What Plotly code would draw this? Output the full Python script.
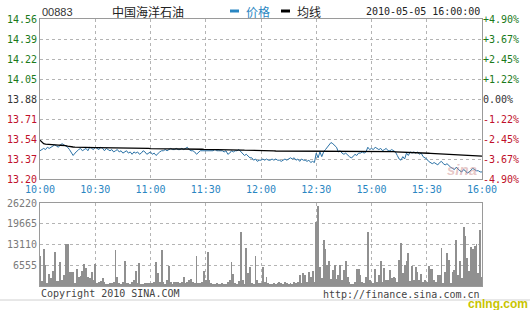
import plotly.graph_objects as go

W, H = 530, 310

# ---------------- data ----------------
stock_code = "00883"
stock_name = "中国海洋石油"
timestamp = "2010-05-05 16:00:00"
pre_close = 13.88

time_labels = ["10:00", "10:30", "11:00", "11:30", "12:00", "12:30", "15:00", "15:30", "16:00"]
time_ticks = [0, 30, 60, 90, 120, 150, 180, 210, 240]

price_ticks = [14.56, 14.39, 14.22, 14.05, 13.88, 13.71, 13.54, 13.37, 13.20]
pct_labels = ["+4.90%", "+3.67%", "+2.45%", "+1.22%", "0.00%", "-1.22%", "-2.45%", "-3.67%", "-4.90%"]
vol_ticks = [6555, 13110, 19665, 26220]

price = [
    13.44, 13.45, 13.46, 13.45, 13.47, 13.46, 13.47, 13.48, 13.49, 13.48, 13.47, 13.49, 13.50, 13.49, 13.48,
    13.47, 13.45, 13.43, 13.40, 13.42, 13.44, 13.45, 13.46, 13.44, 13.45, 13.46, 13.44, 13.47, 13.46, 13.45,
    13.47, 13.46, 13.45, 13.47, 13.46, 13.44, 13.46, 13.45, 13.44, 13.45, 13.43, 13.44, 13.45, 13.43, 13.44,
    13.42, 13.43, 13.44, 13.42, 13.43, 13.41, 13.43, 13.42, 13.43, 13.41, 13.42, 13.44, 13.43, 13.41, 13.42,
    13.43, 13.41, 13.42, 13.40, 13.42, 13.43, 13.44, 13.44, 13.45, 13.44, 13.45, 13.46, 13.45, 13.45, 13.46,
    13.45, 13.45, 13.46, 13.45, 13.46, 13.47, 13.45, 13.44, 13.44, 13.43, 13.41, 13.43, 13.44, 13.44, 13.44,
    13.44, 13.44, 13.44, 13.44, 13.44, 13.45, 13.44, 13.44, 13.44, 13.44, 13.43, 13.44, 13.41, 13.42, 13.44,
    13.43, 13.44, 13.44, 13.45, 13.43, 13.41, 13.40, 13.41, 13.39, 13.38, 13.38, 13.36, 13.37, 13.35, 13.36,
    13.36, 13.37, 13.36, 13.37, 13.36, 13.36, 13.37, 13.36, 13.37, 13.36, 13.36, 13.35, 13.36, 13.37, 13.36,
    13.37, 13.38, 13.37, 13.38, 13.36, 13.37, 13.35, 13.37, 13.36, 13.36, 13.35, 13.36, 13.34, 13.35, 13.34,
    13.42, 13.38, 13.43, 13.39, 13.43, 13.45, 13.47, 13.49, 13.51, 13.50, 13.48, 13.47, 13.43, 13.44, 13.42,
    13.41, 13.42, 13.40, 13.39, 13.38, 13.39, 13.41, 13.40, 13.42, 13.42, 13.43, 13.42, 13.43, 13.47, 13.45,
    13.46, 13.45, 13.47, 13.46, 13.45, 13.46, 13.44, 13.45, 13.46, 13.44, 13.44, 13.45, 13.44, 13.43, 13.40,
    13.37, 13.36, 13.39, 13.37, 13.42, 13.40, 13.43, 13.42, 13.43, 13.42, 13.43, 13.41, 13.42, 13.39, 13.38,
    13.37, 13.35, 13.34, 13.33, 13.34, 13.33, 13.32, 13.34, 13.35, 13.33, 13.32, 13.33, 13.31, 13.30, 13.29,
    13.28, 13.30, 13.28, 13.27, 13.26, 13.28, 13.27, 13.25, 13.26, 13.28, 13.29, 13.28, 13.27, 13.27, 13.26,
    13.26,
]

avg_price = [
    13.530, 13.512, 13.500, 13.496, 13.494, 13.492, 13.490, 13.490, 13.489, 13.488, 13.488, 13.487, 13.487, 13.486, 13.484,
    13.480, 13.476, 13.473, 13.472, 13.471, 13.470, 13.470, 13.469, 13.469, 13.468, 13.468, 13.468, 13.467, 13.467, 13.467,
    13.466, 13.466, 13.466, 13.466, 13.465, 13.465, 13.465, 13.465, 13.465, 13.464, 13.464, 13.464, 13.464, 13.463, 13.463,
    13.463, 13.463, 13.462, 13.462, 13.462, 13.462, 13.461, 13.461, 13.461, 13.461, 13.460, 13.460, 13.460, 13.460, 13.460,
    13.459, 13.459, 13.459, 13.458, 13.458, 13.458, 13.458, 13.457, 13.457, 13.457, 13.457, 13.457, 13.456, 13.456, 13.456,
    13.456, 13.456, 13.455, 13.455, 13.455, 13.455, 13.455, 13.454, 13.454, 13.454, 13.453, 13.453, 13.453, 13.453, 13.452,
    13.452, 13.452, 13.451, 13.451, 13.451, 13.451, 13.450, 13.450, 13.450, 13.450, 13.449, 13.449, 13.449, 13.448, 13.448,
    13.448, 13.447, 13.447, 13.446, 13.446, 13.446, 13.445, 13.445, 13.444, 13.444, 13.443, 13.443, 13.442, 13.442, 13.441,
    13.441, 13.441, 13.440, 13.440, 13.440, 13.439, 13.439, 13.439, 13.438, 13.438, 13.438, 13.437, 13.437, 13.437, 13.436,
    13.436, 13.436, 13.436, 13.435, 13.435, 13.435, 13.435, 13.434, 13.434, 13.434, 13.434, 13.433, 13.433, 13.433, 13.433,
    13.433, 13.433, 13.433, 13.433, 13.433, 13.433, 13.434, 13.434, 13.434, 13.434, 13.434, 13.434, 13.434, 13.434, 13.434,
    13.434, 13.434, 13.433, 13.433, 13.433, 13.433, 13.433, 13.433, 13.433, 13.433, 13.433, 13.433, 13.433, 13.433, 13.433,
    13.433, 13.433, 13.433, 13.433, 13.433, 13.433, 13.433, 13.433, 13.433, 13.433, 13.432, 13.432, 13.432, 13.431, 13.430,
    13.429, 13.428, 13.427, 13.426, 13.426, 13.425, 13.425, 13.425, 13.424, 13.424, 13.424, 13.423, 13.423, 13.422, 13.421,
    13.420, 13.419, 13.418, 13.417, 13.416, 13.415, 13.414, 13.413, 13.412, 13.411, 13.410, 13.409, 13.408, 13.407, 13.406,
    13.405, 13.404, 13.403, 13.402, 13.401, 13.400, 13.400, 13.399, 13.399, 13.398, 13.398, 13.397, 13.397, 13.396, 13.396,
    13.395,
]

volume = [
    9500, 1500, 11700, 6600, 1000, 3800, 2600, 4700, 10800, 1500, 1500, 7700, 1800, 3500, 13300,
    13300, 4400, 4400, 4400, 1000, 5400, 2900, 3100, 4800, 6800, 5800, 3000, 2400, 4500, 1900,
    6800, 800, 1300, 1500, 2400, 1300, 600, 600, 800, 800, 1300, 11400, 2700, 800, 600,
    1300, 8000, 800, 800, 600, 1300, 1900, 4800, 800, 7400, 600, 600, 800, 800, 800,
    800, 800, 1300, 7600, 4200, 1300, 11400, 1300, 600, 1900, 6400, 1300, 600, 1300, 1300,
    1300, 800, 1300, 2700, 800, 1300, 1900, 2100, 1300, 800, 9500, 800, 800, 1300, 4700,
    1900, 10600, 1900, 1100, 600, 600, 800, 600, 600, 800, 600, 600, 1300, 1900, 7700,
    3800, 800, 600, 1600, 17100, 1900, 600, 11900, 4000, 6100, 800, 600, 9500, 1900, 800,
    800, 6100, 1300, 2900, 800, 600, 600, 800, 600, 800, 1300, 800, 600, 1300, 800,
    600, 800, 600, 1300, 800, 1300, 3500, 800, 4000, 3500, 1300, 4500, 2700, 4700, 1300,
    20300, 25400, 6100, 2400, 14500, 11600, 6600, 8000, 2100, 5000, 6600, 2200, 3500, 6600, 1900,
    5000, 7900, 2900, 1400, 600, 600, 1300, 5500, 5300, 3500, 1400, 800, 2900, 17000, 1900,
    1400, 800, 5400, 1400, 3500, 8000, 1400, 5700, 1900, 1900, 5000, 2400, 2700, 2400, 1400,
    8200, 13700, 4000, 6600, 7900, 10500, 1600, 6400, 1900, 5900, 4500, 1900, 3800, 1400, 1900,
    1400, 6400, 5400, 5400, 1900, 1400, 3500, 3500, 12100, 800, 4500, 10300, 8200, 800, 4500,
    5000, 14500, 3500, 8000, 2400, 18500, 15900, 8700, 4700, 12400, 11800, 12600, 13200, 4000, 17700,
    3000,
]

minutes = list(range(len(price)))

# ---------------- styles ----------------
MONO = "DejaVu Sans Mono"
GREEN = "#1a7a1a"
RED = "#c0102a"
BLUE_TXT = "#2a86c2"
GRID = "#b4b4b4"
BORDER = "#9a9a9a"


def px(x):
    return x / W


def py(y):
    return 1 - y / H


def coloured(label, value):
    if abs(value - pre_close) < 1e-9:
        c = "#333333"
    elif value > pre_close:
        c = GREEN
    else:
        c = RED
    return f"<span style='color:{c}'>{label}</span>"


price_ticktext = [coloured(f"{v:.2f}", v) for v in price_ticks]
pct_ticktext = [coloured(p, v) for p, v in zip(pct_labels, price_ticks)]

fig = go.Figure()

fig.add_trace(go.Scatter(x=minutes, y=price, mode="lines", name="价格",
                         line=dict(color="#2b72a6", width=1), xaxis="x", yaxis="y",
                         showlegend=False))
fig.add_trace(go.Scatter(x=minutes, y=avg_price, mode="lines", name="均线",
                         line=dict(color="#000000", width=1.3), xaxis="x", yaxis="y",
                         showlegend=False))
# invisible trace to activate right percent axis
fig.add_trace(go.Scatter(x=[minutes[0]], y=[price_ticks[0]], mode="markers",
                         marker=dict(opacity=0), xaxis="x", yaxis="y3",
                         showlegend=False, hoverinfo="skip"))
fig.add_trace(go.Bar(x=minutes, y=volume, name="成交量", width=0.5,
                     marker=dict(color="#909090", line=dict(width=0)),
                     xaxis="x2", yaxis="y2", showlegend=False))

x_dom = [px(40), px(482)]
price_dom = [py(179), py(19)]
vol_dom = [py(286), py(203)]

common_x = dict(range=[0, 240], showgrid=True, gridcolor=GRID, griddash="dot", gridwidth=1,
                tickvals=time_ticks, showline=True, mirror=True, linecolor=BORDER, linewidth=1,
                zeroline=False, fixedrange=True, automargin=False)

fig.update_layout(
    width=W, height=H,
    margin=dict(l=0, r=0, t=0, b=0, autoexpand=False),
    paper_bgcolor="white", plot_bgcolor="white",
    bargap=0,
    xaxis=dict(domain=x_dom, anchor="y", ticktext=time_labels, ticks="outside", ticklen=1,
               tickcolor="white",
               tickfont=dict(family=MONO, size=10, color=BLUE_TXT), **common_x),
    yaxis=dict(domain=price_dom, range=[13.20, 14.56], tickvals=price_ticks, ticktext=price_ticktext,
               tickfont=dict(family=MONO, size=10), showgrid=True, gridcolor=GRID, griddash="dot",
               showline=True, mirror=True, linecolor=BORDER, zeroline=False, ticks="", fixedrange=True,
               automargin=False),
    yaxis3=dict(overlaying="y", side="right", anchor="x", range=[13.20, 14.56], tickvals=price_ticks,
                ticktext=pct_ticktext, tickfont=dict(family=MONO, size=10), showgrid=False,
                zeroline=False, ticks="", fixedrange=True, automargin=False),
    xaxis2=dict(domain=x_dom, anchor="y2", showticklabels=False, ticks="", ticktext=time_labels,
                **common_x),
    yaxis2=dict(domain=vol_dom, range=[0, 26220], tickvals=vol_ticks,
                ticktext=[str(v) for v in vol_ticks],
                tickfont=dict(family=MONO, size=10, color="#7a7a7a"), showgrid=True, gridcolor=GRID,
                griddash="dot", showline=True, mirror=True, linecolor=BORDER, zeroline=False,
                ticks="", fixedrange=True, automargin=False),
    font=dict(family=MONO, size=10, color="#333"),
)

annotations = [
    dict(text=stock_code, x=px(40), y=py(12), xanchor="left", yanchor="middle",
         font=dict(family="Liberation Sans", size=11, color="#333")),
    dict(text=stock_name, x=px(110), y=py(12), xanchor="left", yanchor="middle",
         font=dict(family="Noto Sans CJK SC", size=12, color="#222")),
    dict(text="价格", x=px(244), y=py(12), xanchor="left", yanchor="middle",
         font=dict(family="Noto Sans CJK SC", size=12, color="#2a86c2")),
    dict(text="均线", x=px(295), y=py(12), xanchor="left", yanchor="middle",
         font=dict(family="Noto Sans CJK SC", size=12, color="#222")),
    dict(text=timestamp, x=px(482), y=py(12), xanchor="right", yanchor="middle",
         font=dict(family=MONO, size=10, color="#222")),
    dict(text="Copyright 2010 SINA.COM", x=px(39), y=py(293), xanchor="left", yanchor="middle",
         font=dict(family=MONO, size=10, color="#444")),
    dict(text="http://finance.sina.com.cn", x=px(482), y=py(294), xanchor="right", yanchor="middle",
         font=dict(family=MONO, size=10, color="#444")),
    dict(text="<i><b>sina</b></i>", x=px(462), y=py(169), xanchor="center", yanchor="middle",
         font=dict(family="Liberation Sans", size=15, color="rgba(200,130,130,0.45)")),
    dict(text="<b>cnlng.com</b>", x=px(530), y=py(304), xanchor="right", yanchor="middle",
         font=dict(family="Liberation Sans", size=12, color="#c8c400")),
]
for a in annotations:
    a.update(xref="paper", yref="paper", showarrow=False)
fig.update_layout(annotations=annotations)

shapes = [
    dict(type="line", x0=px(230), x1=px(239), y0=py(11), y1=py(11), line=dict(color="#2a86c2", width=3)),
    dict(type="line", x0=px(281), x1=px(290), y0=py(11), y1=py(11), line=dict(color="#000000", width=3)),
    dict(type="line", x0=0, x1=1, y0=py(300), y1=py(300), line=dict(color="#d0d0d0", width=1)),
]
for s in shapes:
    s.update(xref="paper", yref="paper")
fig.update_layout(shapes=shapes)

fig.write_html("out.html")
